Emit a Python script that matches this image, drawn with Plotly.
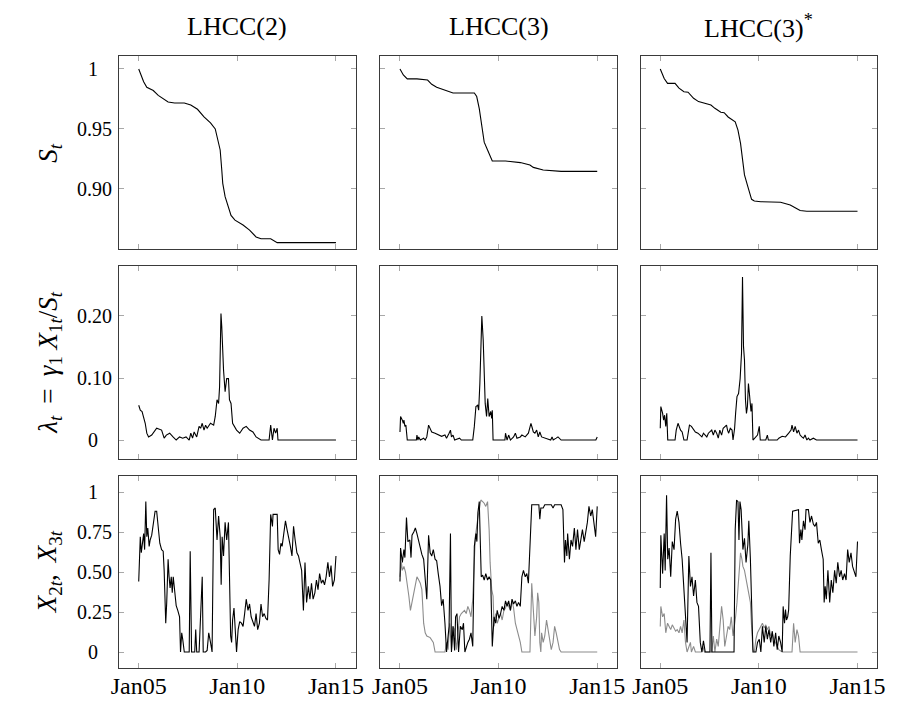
import plotly.graph_objects as go

# ---------------- data (decimal years) ----------------
tick_years = [2005, 2010, 2015]
tick_text = ["Jan05", "Jan10", "Jan15"]
col_titles = ["LHCC(2)", "LHCC(3)", "LHCC(3)<sup>*</sup>"]

# Row 1: survival S_t
s1_t = [2005.0, 2005.08, 2005.25, 2005.41, 2005.74, 2005.99, 2006.24, 2006.49, 2006.82, 2007.31,
        2007.64, 2007.98, 2008.31, 2008.64, 2008.88, 2008.97, 2009.13, 2009.21, 2009.26, 2009.38,
        2009.55, 2009.68, 2009.88, 2010.29, 2010.62, 2010.95, 2011.2, 2011.69, 2012.02, 2015.0]
s1_v = [1.000, 0.9964, 0.9894, 0.9847, 0.982, 0.978, 0.975, 0.9725, 0.9717, 0.9717,
        0.970, 0.9664, 0.960, 0.955, 0.950, 0.9436, 0.9325, 0.916, 0.9047, 0.8936,
        0.885, 0.878, 0.874, 0.870, 0.8658, 0.860, 0.8586, 0.8586, 0.8553, 0.8553]

s2_t = [2005.0, 2005.17, 2005.37, 2005.86, 2006.40, 2006.61, 2006.86, 2007.28, 2007.69, 2008.77,
        2008.89, 2009.02, 2009.15, 2009.27, 2009.44, 2009.68, 2010.35, 2011.10, 2011.59, 2011.76,
        2012.26, 2013.17, 2015.0]
s2_v = [1.0, 0.995, 0.9917, 0.9917, 0.9908, 0.9872, 0.9847, 0.9825, 0.980, 0.980,
        0.977, 0.967, 0.952, 0.939, 0.9325, 0.9233, 0.9233, 0.922, 0.920, 0.918,
        0.9158, 0.9147, 0.9147]

s3_t = [2005.0, 2005.2, 2005.37, 2005.75, 2005.95, 2006.2, 2006.41, 2006.69, 2006.94, 2007.24,
        2007.57, 2007.77, 2008.07, 2008.24, 2008.44, 2008.8, 2008.94, 2009.07, 2009.19, 2009.27,
        2009.44, 2009.63, 2009.77, 2010.1, 2011.1, 2011.59, 2011.84, 2012.09, 2012.43, 2015.0]
s3_v = [1.0, 0.992, 0.988, 0.988, 0.984, 0.981, 0.9806, 0.9756, 0.9728, 0.9714,
        0.970, 0.9672, 0.9639, 0.9636, 0.960, 0.956, 0.949, 0.938, 0.924, 0.9117,
        0.902, 0.8914, 0.890, 0.8894, 0.889, 0.8867, 0.8844, 0.882, 0.8814, 0.8814]

# Row 2: default intensity lambda_t
l1_t = [2005.00, 2005.08, 2005.17, 2005.25, 2005.33, 2005.41, 2005.50, 2005.66, 2005.91, 2006.16,
        2006.29, 2006.40, 2006.57, 2006.74, 2006.90, 2007.07, 2007.23, 2007.40, 2007.56, 2007.64,
        2007.73, 2007.81, 2007.94, 2008.06, 2008.14, 2008.22, 2008.31, 2008.39, 2008.47, 2008.64,
        2008.80, 2008.88, 2008.97, 2009.05, 2009.10, 2009.17, 2009.21, 2009.30, 2009.38, 2009.46,
        2009.55, 2009.60, 2009.68, 2009.76, 2009.88, 2009.96, 2010.12, 2010.29, 2010.45, 2010.62,
        2010.79, 2010.95, 2011.20, 2011.61, 2011.69, 2011.78, 2011.86, 2011.94, 2012.02, 2012.06,
        2015.0]
l1_v = [0.056, 0.048, 0.046, 0.038, 0.027, 0.011, 0.005, 0.008, 0.019, 0.016,
        0.003, 0.008, 0.011, 0.005, 0.0, 0.005, 0.003, 0.005, 0.0, 0.011,
        0.003, 0.013, 0.005, 0.022, 0.019, 0.027, 0.016, 0.024, 0.019, 0.027,
        0.024, 0.038, 0.065, 0.059, 0.086, 0.204, 0.183, 0.113, 0.078, 0.099,
        0.099, 0.065, 0.059, 0.027, 0.019, 0.016, 0.011, 0.019, 0.022, 0.016,
        0.013, 0.005, 0.0, 0.0, 0.024, 0.0, 0.019, 0.011, 0.019, 0.0,
        0.0]

l2_t = [2005.00, 2005.03, 2005.12, 2005.17, 2005.20, 2005.25, 2005.30, 2005.33, 2005.37, 2005.83,
        2005.86, 2005.91, 2005.95, 2006.03, 2006.20, 2006.28, 2006.36, 2006.45, 2006.53, 2006.61,
        2006.78, 2006.94, 2007.11, 2007.28, 2007.36, 2007.49, 2007.56, 2007.61, 2007.69, 2007.77,
        2008.02, 2008.11, 2008.69, 2008.77, 2008.85, 2008.94, 2008.99, 2009.05, 2009.15, 2009.22,
        2009.27, 2009.32, 2009.39, 2009.45, 2009.52, 2009.60, 2009.65, 2009.68, 2009.72, 2010.32,
        2010.35, 2010.43, 2010.51, 2010.60, 2010.76, 2010.85, 2010.93, 2011.10, 2011.18, 2011.35,
        2011.51, 2011.64, 2011.71, 2011.76, 2011.84, 2011.93, 2012.01, 2012.09, 2012.18, 2012.34,
        2012.64, 2012.71, 2012.77, 2012.92, 2013.01, 2013.17, 2014.93, 2015.0]
l2_v = [0.013, 0.038, 0.032, 0.027, 0.032, 0.022, 0.024, 0.016, 0.0, 0.0,
        0.008, 0.0, 0.005, 0.0, 0.003, 0.0, 0.005, 0.024, 0.019, 0.013,
        0.011, 0.008, 0.006, 0.008, 0.003, 0.011, 0.016, 0.005, 0.008, 0.0,
        0.003, 0.0, 0.0, 0.022, 0.054, 0.056, 0.048, 0.091, 0.200, 0.161,
        0.113, 0.059, 0.038, 0.067, 0.038, 0.046, 0.035, 0.048, 0.0, 0.0,
        0.011, 0.0, 0.008, 0.0, 0.005, 0.011, 0.003, 0.005, 0.008, 0.005,
        0.011, 0.027, 0.019, 0.013, 0.011, 0.016, 0.005, 0.013, 0.005, 0.003,
        0.0, 0.005, 0.0, 0.003, 0.005, 0.0, 0.0, 0.005]

l3_t = [2005.00, 2005.03, 2005.12, 2005.17, 2005.22, 2005.28, 2005.33, 2005.38, 2005.75, 2005.81,
        2005.90, 2005.95, 2006.03, 2006.11, 2006.20, 2006.36, 2006.48, 2006.58, 2006.69, 2006.78,
        2006.91, 2007.03, 2007.11, 2007.19, 2007.28, 2007.36, 2007.44, 2007.52, 2007.61, 2007.69,
        2007.77, 2007.86, 2007.94, 2008.02, 2008.11, 2008.19, 2008.27, 2008.36, 2008.41, 2008.47,
        2008.55, 2008.64, 2008.69, 2008.77, 2008.82, 2008.89, 2008.97, 2009.05, 2009.12, 2009.17,
        2009.22, 2009.27, 2009.32, 2009.37, 2009.42, 2009.47, 2009.52, 2009.57, 2009.60, 2009.65,
        2009.70, 2009.93, 2010.02, 2010.07, 2010.35, 2010.43, 2010.48, 2010.93, 2011.01, 2011.18,
        2011.35, 2011.51, 2011.63, 2011.68, 2011.76, 2011.84, 2011.93, 2012.01, 2012.09, 2012.18,
        2012.26, 2012.34, 2012.43, 2012.51, 2012.59, 2012.76, 2012.92, 2015.0]
l3_v = [0.019, 0.054, 0.043, 0.032, 0.040, 0.022, 0.043, 0.0, 0.0, 0.016,
        0.027, 0.022, 0.016, 0.013, 0.0, 0.0, 0.024, 0.022, 0.016, 0.013,
        0.011, 0.008, 0.005, 0.011, 0.008, 0.005, 0.011, 0.013, 0.016, 0.008,
        0.016, 0.011, 0.003, 0.016, 0.008, 0.019, 0.022, 0.024, 0.016, 0.011,
        0.019, 0.016, 0.0, 0.019, 0.043, 0.070, 0.075, 0.099, 0.140, 0.263,
        0.151, 0.129, 0.065, 0.043, 0.054, 0.091, 0.075, 0.054, 0.046, 0.059,
        0.0, 0.008, 0.022, 0.0, 0.0, 0.008, 0.0, 0.0, 0.003, 0.006,
        0.005, 0.011, 0.016, 0.024, 0.013, 0.022, 0.011, 0.016, 0.008, 0.005,
        0.003, 0.008, 0.0, 0.003, 0.0, 0.003, 0.0, 0.0]

# Row 3: X_2t (black) and X_3t (grey)
x2a_t = [2005.00, 2005.08, 2005.13, 2005.20, 2005.25, 2005.30, 2005.36, 2005.41, 2005.46, 2005.53,
         2005.58, 2005.66, 2005.74, 2005.83, 2005.91, 2005.99, 2006.07, 2006.16, 2006.24, 2006.29,
         2006.32, 2006.37, 2006.42, 2006.49, 2006.54, 2006.59, 2006.65, 2006.70, 2006.75, 2006.82,
         2006.90, 2006.98, 2007.07, 2007.12, 2007.18, 2007.23, 2007.28, 2007.31, 2007.56, 2007.61,
         2007.68, 2007.84, 2007.89, 2007.94, 2008.06, 2008.14, 2008.22, 2008.27, 2008.39, 2008.47,
         2008.55, 2008.64, 2008.72, 2008.80, 2008.88, 2008.97, 2009.05, 2009.13, 2009.18, 2009.23,
         2009.30, 2009.38, 2009.46, 2009.55, 2009.60, 2009.66, 2009.71, 2009.76, 2009.83, 2009.88,
         2009.96, 2010.04, 2010.12, 2010.21, 2010.29, 2010.37, 2010.45, 2010.54, 2010.62, 2010.70,
         2010.79, 2010.87, 2010.95, 2011.03, 2011.12, 2011.20, 2011.28, 2011.36, 2011.45, 2011.53,
         2011.61, 2011.69, 2011.78, 2011.81, 2012.02, 2012.07, 2012.14, 2012.21, 2012.27, 2012.36,
         2012.44, 2012.52, 2012.60, 2012.69, 2012.77, 2012.85, 2012.93, 2013.02, 2013.10, 2013.18,
         2013.26, 2013.35, 2013.43, 2013.51, 2013.60, 2013.68, 2013.76, 2013.84, 2013.93, 2014.01,
         2014.09, 2014.17, 2014.26, 2014.34, 2014.42, 2014.50, 2014.59, 2014.67, 2014.75, 2014.83,
         2014.92, 2015.00]
x2a_v = [0.44, 0.72, 0.62, 0.70, 0.74, 0.64, 0.94, 0.72, 0.775, 0.66,
         0.70, 0.73, 0.81, 0.88, 0.88, 0.785, 0.68, 0.64, 0.63, 0.51,
         0.39, 0.18, 0.31, 0.58, 0.47, 0.40, 0.47, 0.37, 0.47, 0.36,
         0.29, 0.26, 0.22, 0.0, 0.12, 0.08, 0.01, 0.0, 0.0, 0.63,
         0.0, 0.0, 0.14, 0.0, 0.0, 0.26, 0.47, 0.0, 0.0, 0.01,
         0.12, 0.06, 0.0, 0.89, 0.90, 0.70, 0.85, 0.72, 0.42, 0.72,
         0.60, 0.81, 0.70, 0.81, 0.47, 0.10, 0.06, 0.20, 0.275, 0.14,
         0.0, 0.14, 0.19, 0.18, 0.16, 0.24, 0.33, 0.26, 0.30, 0.22,
         0.18, 0.16, 0.24, 0.14, 0.18, 0.30, 0.22, 0.24, 0.21, 0.20,
         0.45, 0.86, 0.785, 0.86, 0.86, 0.64, 0.61, 0.68, 0.66, 0.74,
         0.82, 0.765, 0.72, 0.66, 0.60, 0.785, 0.70, 0.62, 0.60, 0.56,
         0.51, 0.26, 0.56, 0.31, 0.41, 0.33, 0.43, 0.33, 0.37, 0.45,
         0.39, 0.49, 0.43, 0.45, 0.42, 0.47, 0.56, 0.47, 0.54, 0.41,
         0.45, 0.60]

x2b_t = [2005.00, 2005.03, 2005.12, 2005.20, 2005.25, 2005.28, 2005.33, 2005.40, 2005.50, 2005.56,
         2005.61, 2005.70, 2005.78, 2005.86, 2005.95, 2006.03, 2006.11, 2006.20, 2006.28, 2006.36,
         2006.45, 2006.53, 2006.61, 2006.69, 2006.78, 2006.86, 2006.94, 2007.03, 2007.11, 2007.19,
         2007.28, 2007.36, 2007.44, 2007.49, 2007.56, 2007.61, 2007.69, 2007.77, 2007.82, 2007.89,
         2007.97, 2008.06, 2008.16, 2008.22, 2008.29, 2008.36, 2008.44, 2008.52, 2008.60, 2008.69,
         2008.77, 2008.85, 2008.90, 2008.95, 2009.02, 2009.07, 2009.12, 2009.19, 2009.27, 2009.35,
         2009.44, 2009.52, 2009.60, 2009.68, 2009.77, 2009.85, 2009.93, 2010.02, 2010.10, 2010.18,
         2010.27, 2010.35, 2010.43, 2010.51, 2010.60, 2010.68, 2010.76, 2010.85, 2010.93, 2011.01,
         2011.10, 2011.18, 2011.26, 2011.35, 2011.43, 2011.51, 2011.59, 2011.68, 2012.04, 2012.09,
         2012.14, 2012.26, 2012.34, 2012.67, 2012.76, 2012.84, 2013.17, 2013.26, 2013.34, 2013.39,
         2013.46, 2013.50, 2013.59, 2013.67, 2013.75, 2013.84, 2013.92, 2014.00, 2014.09, 2014.17,
         2014.25, 2014.34, 2014.42, 2014.50, 2014.58, 2014.67, 2014.75, 2014.83, 2014.92, 2015.00]
x2b_v = [0.44, 0.65, 0.56, 0.64, 0.59, 0.69, 0.84, 0.69, 0.70, 0.59,
         0.73, 0.75, 0.775, 0.74, 0.69, 0.65, 0.61, 0.58, 0.42, 0.33,
         0.73, 0.62, 0.60, 0.64, 0.58, 0.57, 0.49, 0.41, 0.29, 0.33,
         0.18, 0.0, 0.10, 0.16, 0.74, 0.0, 0.16, 0.01, 0.22, 0.24,
         0.0, 0.16, 0.14, 0.18, 0.0, 0.035, 0.06, 0.08, 0.12, 0.035,
         0.66, 0.74, 0.69, 0.87, 0.94, 0.70, 0.47, 0.48, 0.45, 0.49,
         0.45, 0.47, 0.45, 0.035, 0.22, 0.18, 0.26, 0.21, 0.24, 0.285,
         0.26, 0.32, 0.285, 0.32, 0.26, 0.33, 0.30, 0.32, 0.285, 0.31,
         0.285, 0.47, 0.51, 0.47, 0.49, 0.43, 0.66, 0.92, 0.92, 0.83,
         0.90, 0.90, 0.92, 0.92, 0.90, 0.92, 0.92, 0.89, 0.56, 0.70,
         0.60, 0.74, 0.58, 0.70, 0.66, 0.775, 0.64, 0.765, 0.64, 0.72,
         0.765, 0.69, 0.74, 0.81, 0.91, 0.85, 0.89, 0.81, 0.72, 0.91]

x3b_t = [2005.00, 2005.07, 2005.12, 2005.20, 2005.28, 2005.37, 2005.45, 2005.53, 2005.61, 2005.70,
         2005.78, 2005.86, 2005.95, 2006.03, 2006.11, 2006.20, 2006.28, 2006.36, 2006.53, 2006.69,
         2006.78, 2007.28, 2007.36, 2007.44, 2007.52, 2007.61, 2007.69, 2007.77, 2007.86, 2007.94,
         2008.02, 2008.11, 2008.27, 2008.36, 2008.44, 2008.52, 2008.60, 2008.69, 2008.77, 2008.82,
         2008.94, 2009.02, 2009.10, 2009.19, 2009.27, 2009.35, 2009.44, 2009.52, 2009.57, 2009.65,
         2009.72, 2009.77, 2009.85, 2009.93, 2010.02, 2010.10, 2010.18, 2010.27, 2010.35, 2010.43,
         2010.51, 2010.60, 2010.68, 2010.76, 2010.85, 2010.93, 2011.01, 2011.10, 2011.18, 2011.59,
         2011.68, 2011.76, 2011.84, 2011.93, 2011.98, 2012.04, 2012.09, 2012.14, 2012.18, 2012.26,
         2012.34, 2012.43, 2012.51, 2012.59, 2012.67, 2012.76, 2012.84, 2012.92, 2013.01, 2013.09,
         2013.17, 2015.00]
x3b_v = [0.47, 0.56, 0.51, 0.535, 0.50, 0.43, 0.35, 0.26, 0.31, 0.36,
         0.43, 0.47, 0.45, 0.43, 0.39, 0.18, 0.12, 0.10, 0.09, 0.06,
         0.0, 0.0, 0.06, 0.015, 0.18, 0.015, 0.16, 0.14, 0.015, 0.14,
         0.22, 0.24, 0.26, 0.24, 0.285, 0.26, 0.22, 0.33, 0.62, 0.72,
         0.83, 0.89, 0.95, 0.94, 0.93, 0.91, 0.94, 0.765, 0.56, 0.39,
         0.35, 0.16, 0.24, 0.18, 0.22, 0.24, 0.20, 0.26, 0.275, 0.31,
         0.285, 0.26, 0.32, 0.275, 0.18, 0.14, 0.10, 0.06, 0.0, 0.0,
         0.43, 0.26, 0.10, 0.22, 0.37, 0.31, 0.06, 0.0, 0.12, 0.06,
         0.10, 0.20, 0.14, 0.10, 0.015, 0.06, 0.16, 0.12, 0.06, 0.015,
         0.0, 0.0]

x2c_t = [2005.00, 2005.03, 2005.12, 2005.20, 2005.25, 2005.32, 2005.38, 2005.45, 2005.53, 2005.61,
         2005.70, 2005.78, 2005.86, 2005.95, 2006.03, 2006.11, 2006.20, 2006.28, 2006.36, 2006.45,
         2006.53, 2006.61, 2006.69, 2006.78, 2006.86, 2006.94, 2007.03, 2007.11, 2007.19, 2007.28,
         2007.52, 2007.57, 2007.62, 2008.74, 2008.80, 2008.87, 2008.94, 2008.99, 2009.04, 2009.10,
         2009.19, 2009.27, 2009.35, 2009.44, 2009.49, 2009.57, 2009.63, 2009.70, 2009.85, 2009.93,
         2010.02, 2010.10, 2010.18, 2010.27, 2010.35, 2010.43, 2010.51, 2010.60, 2010.68, 2010.76,
         2010.85, 2010.93, 2011.01, 2011.10, 2011.18, 2011.23, 2011.30, 2011.35, 2011.40, 2011.46,
         2011.51, 2011.59, 2011.71, 2012.01, 2012.06, 2012.13, 2012.18, 2012.26, 2012.34, 2012.39,
         2012.51, 2012.59, 2012.67, 2012.76, 2012.84, 2012.92, 2013.01, 2013.09, 2013.17, 2013.26,
         2013.31, 2013.36, 2013.42, 2013.50, 2013.59, 2013.67, 2013.75, 2013.84, 2013.92, 2014.00,
         2014.09, 2014.17, 2014.25, 2014.34, 2014.42, 2014.50, 2014.58, 2014.67, 2014.75, 2014.83,
         2014.92, 2015.00]
x2c_v = [0.40, 0.73, 0.49, 0.74, 0.51, 0.98, 0.58, 0.65, 0.47, 0.69,
         0.64, 0.83, 0.88, 0.81, 0.68, 0.58, 0.39, 0.24, 0.06, 0.60,
         0.41, 0.47, 0.35, 0.45, 0.31, 0.285, 0.06, 0.0, 0.07, 0.0,
         0.0, 0.62, 0.0, 0.0, 0.765, 0.95, 0.94, 0.70, 0.94, 0.89,
         0.64, 0.71, 0.56, 0.67, 0.82, 0.58, 0.33, 0.0, 0.0, 0.06,
         0.08, 0.0, 0.16, 0.06, 0.16, 0.08, 0.14, 0.06, 0.13, 0.035,
         0.12, 0.015, 0.10, 0.06, 0.0, 0.285, 0.18, 0.265, 0.20, 0.22,
         0.265, 0.60, 0.88, 0.89, 0.68, 0.765, 0.70, 0.82, 0.765, 0.89,
         0.89, 0.81, 0.85, 0.80, 0.785, 0.81, 0.68, 0.70, 0.64, 0.58,
         0.31, 0.41, 0.33, 0.51, 0.31, 0.45, 0.37, 0.51, 0.43, 0.56,
         0.47, 0.51, 0.45, 0.49, 0.45, 0.64, 0.56, 0.62, 0.535, 0.51,
         0.47, 0.69]

x3c_t = [2005.00, 2005.03, 2005.12, 2005.20, 2005.28, 2005.37, 2005.45, 2005.53, 2005.61, 2005.70,
         2005.78, 2005.86, 2005.95, 2006.03, 2006.11, 2006.20, 2006.28, 2006.36, 2006.53, 2006.58,
         2006.69, 2006.78, 2007.11, 2007.16, 2007.24, 2007.61, 2007.69, 2007.77, 2007.86, 2007.94,
         2008.02, 2008.11, 2008.19, 2008.27, 2008.36, 2008.44, 2008.52, 2008.60, 2008.69, 2008.77,
         2008.82, 2008.89, 2008.97, 2009.07, 2009.14, 2009.19, 2009.27, 2009.35, 2009.44, 2009.49,
         2009.57, 2009.63, 2009.70, 2009.77, 2009.85, 2009.93, 2010.02, 2010.10, 2010.18, 2010.27,
         2010.35, 2010.43, 2010.51, 2010.60, 2010.68, 2010.76, 2010.85, 2010.93, 2011.01, 2011.18,
         2011.68, 2011.76, 2011.84, 2011.93, 2012.01, 2012.09, 2015.00]
x3c_v = [0.16, 0.285, 0.22, 0.24, 0.12, 0.18, 0.16, 0.14, 0.17, 0.15,
         0.13, 0.14, 0.12, 0.16, 0.12, 0.20, 0.06, 0.0, 0.06, 0.0,
         0.035, 0.0, 0.0, 0.035, 0.0, 0.0, 0.10, 0.0, 0.08, 0.035,
         0.14, 0.285, 0.20, 0.035, 0.10, 0.16, 0.14, 0.22, 0.10, 0.16,
         0.22, 0.31, 0.47, 0.62, 0.58, 0.535, 0.51, 0.45, 0.39, 0.35,
         0.31, 0.16, 0.015, 0.0, 0.08, 0.12, 0.14, 0.16, 0.18, 0.15,
         0.17, 0.14, 0.16, 0.10, 0.12, 0.08, 0.06, 0.035, 0.015, 0.0,
         0.0, 0.18, 0.06, 0.14, 0.10, 0.0, 0.0]

# ---------------- figure ----------------
W, H = 898, 702
FONT = "Liberation Serif"
BLACK = "#000000"
GREY = "#8c8c8c"
PAD1 = "\u2007\u2009"   # keeps single-digit labels centred like the others

col_px = [(113, 354), (379, 620), (644, 885)]
row_px = [(56, 249), (266, 459), (476, 668)]
row_ranges = [[0.85, 1.0108], [-0.0306, 0.2806], [-0.1, 1.1]]
row_tickvals = [[0.90, 0.95, 1.0], [0.0, 0.10, 0.20], [0.0, 0.25, 0.5, 0.75, 1.0]]
row_ticktext = [["0.90", "0.95", "1" + PAD1], ["0" + PAD1, "0.10", "0.20"],
                ["0" + PAD1, "0.25", "0.50", "0.75", "1" + PAD1]]
row_labels = ["<i>S</i><sub><i>t</i></sub>",
              "<i>λ</i><sub><i>t</i></sub> \u2009=\u2009 <i>γ</i><sub>1</sub> <i>X</i><sub>1<i>t</i></sub>/<i>S</i><sub><i>t</i></sub>",
              "<i>X</i><sub>2<i>t</i></sub>,\u2009 <i>X</i><sub>3<i>t</i></sub>"]

series = {
    (0, 0): [(s1_t, s1_v, BLACK)],
    (0, 1): [(s2_t, s2_v, BLACK)],
    (0, 2): [(s3_t, s3_v, BLACK)],
    (1, 0): [(l1_t, l1_v, BLACK)],
    (1, 1): [(l2_t, l2_v, BLACK)],
    (1, 2): [(l3_t, l3_v, BLACK)],
    (2, 0): [(x2a_t, x2a_v, BLACK)],
    (2, 1): [(x3b_t, x3b_v, GREY), (x2b_t, x2b_v, BLACK)],
    (2, 2): [(x3c_t, x3c_v, GREY), (x2c_t, x2c_v, BLACK)],
}

fig = go.Figure()
layout = dict(
    width=W, height=H, margin=dict(l=0, r=0, t=0, b=0),
    paper_bgcolor="white", plot_bgcolor="white", showlegend=False,
    font=dict(family=FONT, color="black"),
)

for r in range(3):
    for c in range(3):
        idx = r * 3 + c + 1
        sfx = "" if idx == 1 else str(idx)
        x0, x1 = col_px[c]
        y0, y1 = row_px[r]
        for xs, ys, colr in series[(r, c)]:
            fig.add_trace(go.Scatter(x=xs, y=ys, mode="lines",
                                     line=dict(color=colr, width=1.1),
                                     xaxis="x" + sfx, yaxis="y" + sfx,
                                     hoverinfo="skip"))
        layout["xaxis" + sfx] = dict(
            domain=[x0 / W, x1 / W], anchor="y" + sfx, range=[2004, 2016],
            tickvals=tick_years, ticktext=tick_text, showticklabels=(r == 2),
            ticks="inside", ticklen=5, tickcolor="#a8a8a8", tickwidth=1,
            showline=True, linecolor="#3a3a3a", linewidth=1, mirror="ticks",
            showgrid=False, zeroline=False, ticklabelstandoff=-4,
            tickfont=dict(family=FONT, size=24, color="black"),
        )
        layout["yaxis" + sfx] = dict(
            domain=[1 - y1 / H, 1 - y0 / H], anchor="x" + sfx, range=row_ranges[r],
            tickvals=row_tickvals[r], ticktext=row_ticktext[r], showticklabels=(c == 0),
            ticks="inside", ticklen=5, tickcolor="#a8a8a8", tickwidth=1,
            showline=True, linecolor="#3a3a3a", linewidth=1, mirror="ticks",
            showgrid=False, zeroline=False, ticklabelstandoff=2,
            tickfont=dict(family=FONT, size=20, color="black"),
        )

annotations = []
for c in range(3):
    x0, x1 = col_px[c]
    annotations.append(dict(text=col_titles[c], x=(x0 + x1) / 2 / W, y=1 - 27 / H,
                            xref="paper", yref="paper", xanchor="center", yanchor="middle",
                            showarrow=False, font=dict(family=FONT, size=26, color="black")))
for r in range(3):
    y0, y1 = row_px[r]
    annotations.append(dict(text=row_labels[r], x=42 / W, y=1 - (y0 + y1) / 2 / H,
                            xref="paper", yref="paper", xanchor="center", yanchor="middle",
                            textangle=-90, showarrow=False,
                            font=dict(family=FONT, size=27, color="black")))
layout["annotations"] = annotations

fig.update_layout(**layout)
fig.write_html("out.html")
